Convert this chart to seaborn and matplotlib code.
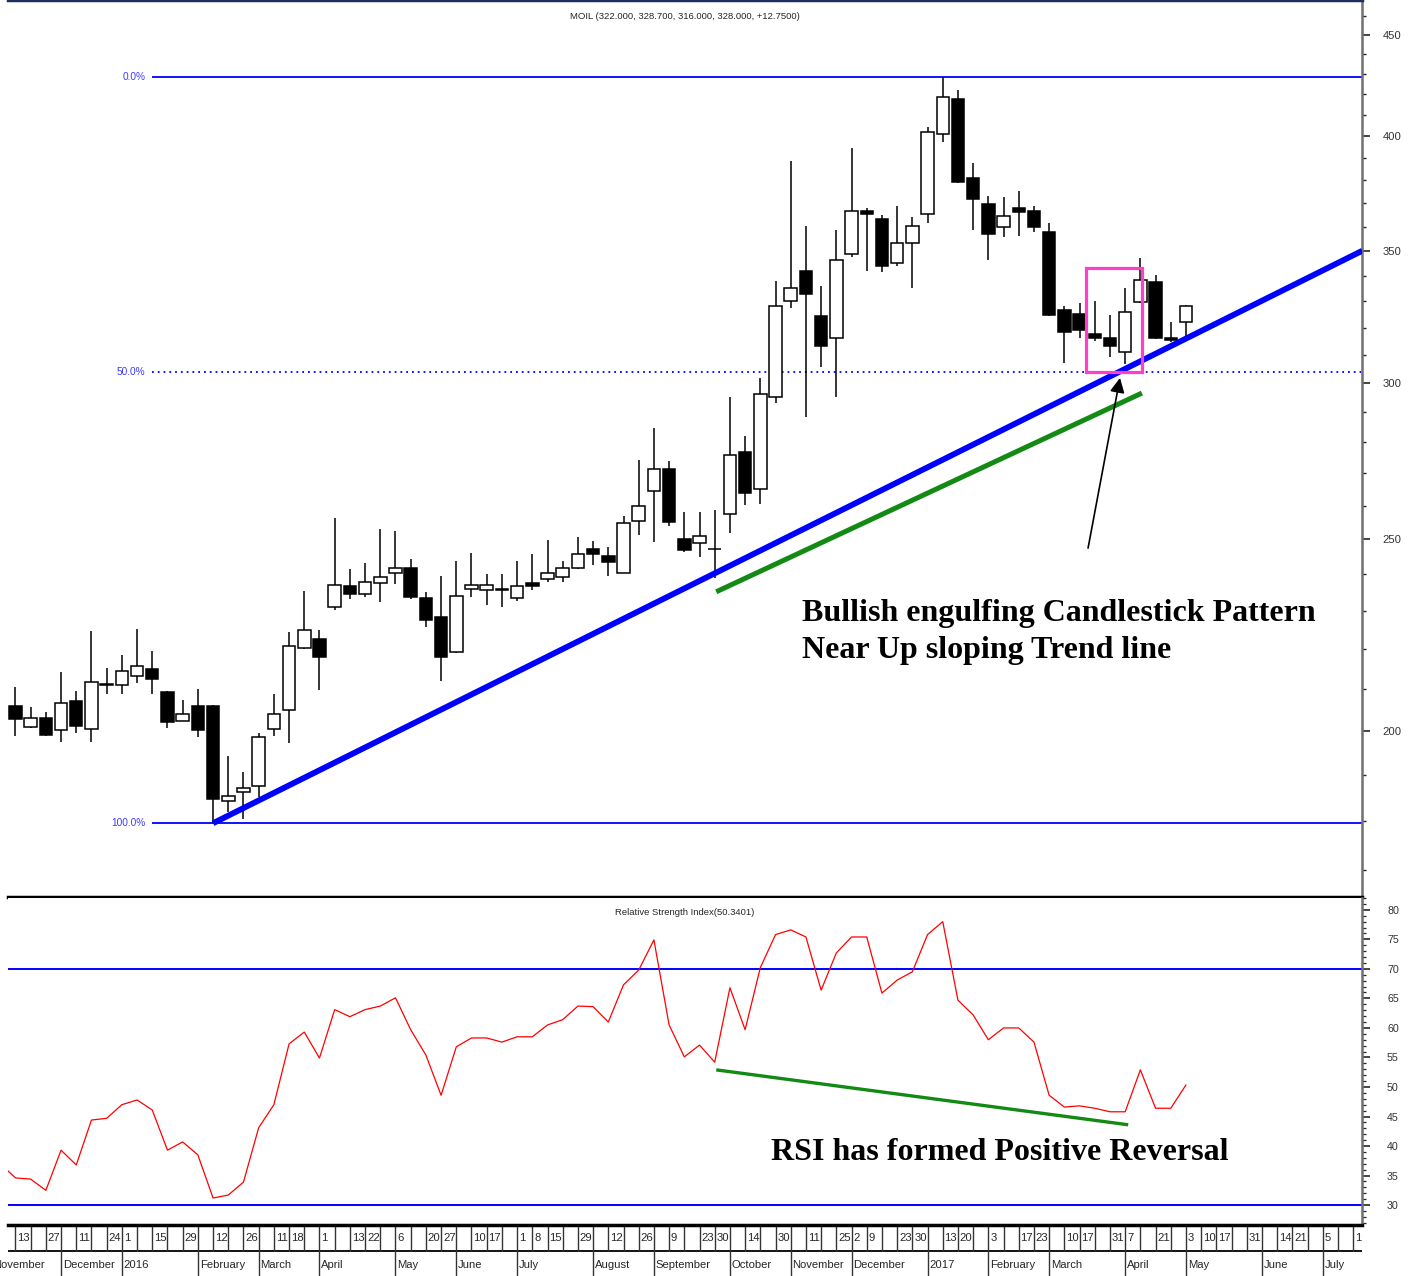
import matplotlib
matplotlib.use("Agg")
import matplotlib.pyplot as plt
import matplotlib.ticker as mticker
from matplotlib import font_manager
from matplotlib.patches import Rectangle
import numpy as np
import pandas as pd
import seaborn as sns

# weekly MOIL candles, 13 Nov 2015 .. 3 May 2017
opens = [206.0, 200.8, 203.1, 200.2, 207.1, 200.4, 211.1, 211.0, 213.1, 215.0,
         209.2, 202.4, 206.0, 206.0, 184.3, 186.2, 187.6, 200.4, 204.9, 220.2,
         222.7, 231.2, 236.9, 234.6, 237.5, 240.4, 241.9, 233.6, 228.5, 219.2,
         235.9, 235.7, 235.8, 233.5, 237.7, 238.7, 239.3, 241.7, 247.2, 245.3,
         240.4, 255.3, 264.5, 271.4, 250.2, 248.9, 247.1, 257.5, 276.9, 265.2,
         295.2, 329.9, 341.9, 324.4, 316.1, 348.6, 366.8, 363.1, 345.0, 353.1,
         365.4, 401.0, 417.7, 380.8, 369.5, 360.0, 367.8, 366.8, 357.7, 326.7,
         325.2, 317.8, 316.2, 311.2, 329.6, 337.6, 316.0, 322.0]
highs = [210.4, 205.6, 204.5, 214.1, 209.4, 224.6, 215.2, 218.5, 225.2, 219.5,
         209.4, 207.3, 210.0, 206.2, 194.3, 190.7, 199.5, 208.7, 224.4, 235.4,
         225.0, 256.2, 241.4, 243.1, 253.0, 252.4, 244.5, 235.2, 239.5, 243.9,
         246.2, 240.1, 240.1, 243.8, 245.7, 249.9, 243.8, 250.6, 249.5, 247.9,
         256.9, 274.3, 284.8, 273.8, 258.2, 258.2, 258.8, 295.0, 281.9, 301.7,
         337.9, 388.8, 360.4, 335.9, 358.6, 394.4, 367.8, 364.9, 368.8, 364.2,
         404.4, 428.5, 422.1, 387.6, 373.2, 372.5, 375.3, 368.7, 361.4, 328.0,
         329.5, 330.2, 324.6, 335.3, 347.2, 340.2, 322.0, 328.7]
lows = [198.7, 200.7, 198.8, 197.5, 199.6, 197.5, 208.7, 208.7, 211.6, 208.7,
        200.6, 202.3, 198.5, 179.6, 182.0, 180.4, 185.2, 198.7, 197.1, 220.0,
        209.8, 230.3, 233.2, 233.9, 232.5, 237.3, 233.3, 225.7, 212.0, 219.0,
        233.9, 231.5, 231.0, 232.8, 235.7, 238.0, 237.8, 241.6, 242.6, 239.6,
        240.3, 251.3, 249.3, 253.8, 246.4, 245.0, 239.0, 251.9, 260.3, 260.5,
        293.0, 327.3, 288.5, 305.8, 295.0, 347.4, 341.9, 341.3, 343.8, 335.3,
        361.4, 397.5, 378.8, 358.6, 346.3, 355.8, 356.1, 357.7, 324.4, 307.0,
        316.0, 315.0, 309.4, 306.8, 329.4, 315.8, 314.8, 316.0]
closes = [202.8, 203.1, 199.1, 206.6, 201.2, 211.8, 211.3, 214.5, 215.6, 212.5,
          202.2, 203.9, 200.2, 184.7, 185.4, 187.2, 198.5, 203.9, 220.9, 225.0,
          218.0, 237.1, 234.6, 238.0, 239.3, 241.7, 233.9, 227.5, 218.0, 234.1,
          237.1, 237.1, 236.0, 236.9, 236.8, 240.4, 241.7, 245.9, 245.9, 243.4,
          254.7, 260.0, 271.3, 255.2, 246.9, 251.0, 247.3, 275.9, 263.9, 296.3,
          328.2, 335.0, 332.8, 313.4, 346.3, 366.6, 365.4, 343.8, 353.1, 360.4,
          402.1, 418.5, 379.1, 371.6, 357.0, 364.6, 366.3, 359.7, 324.6, 318.2,
          319.0, 316.0, 313.4, 325.7, 338.3, 316.0, 315.25, 328.0]

# RSI, first value belongs to the week before the first candle
rsi = [37.0, 34.6, 34.4, 32.5, 39.3, 36.8, 44.4, 44.7, 47.0, 47.8,
       46.1, 39.3, 40.7, 38.5, 31.2, 31.7, 33.9, 43.1, 47.0, 57.3,
       59.3, 54.9, 63.1, 61.9, 63.1, 63.7, 65.1, 59.7, 55.4, 48.6,
       56.8, 58.3, 58.3, 57.6, 58.5, 58.5, 60.5, 61.4, 63.7, 63.6,
       61.0, 67.3, 69.8, 74.9, 60.5, 55.1, 57.1, 54.2, 66.8, 59.7,
       70.2, 75.8, 76.6, 75.4, 66.4, 72.7, 75.4, 75.4, 65.9, 68.1,
       69.5, 75.8, 78.0, 64.7, 62.2, 58.0, 60.0, 60.0, 57.6, 48.6,
       46.6, 46.8, 46.4, 45.8, 45.8, 52.9, 46.4, 46.4, 50.34]

# date scale: one entry per week, blank where the chart prints no number
week_days = ["13", "", "27", "", "11", "", "24", "1", "", "15",
             "", "29", "", "12", "", "26", "", "11", "18", "",
             "1", "", "13", "22", "", "6", "", "20", "27", "",
             "10", "17", "", "1", "8", "15", "", "29", "", "12",
             "", "26", "", "9", "", "23", "30", "", "14", "",
             "30", "", "11", "", "25", "2", "9", "", "23", "30",
             "", "13", "20", "", "3", "", "17", "23", "", "10",
             "17", "", "31", "7", "", "21", "", "3", "10", "17",
             "", "31", "", "14", "21", "", "5", "", "19"]
month_names = ["November", "December", "2016", "February", "March", "April",
               "May", "June", "July", "August", "September", "October",
               "November", "December", "2017", "February", "March", "April",
               "May", "June", "July"]
month_weeks = [-1.6, 3, 7, 12, 16, 20, 25, 29, 33, 38, 42, 47, 51, 55, 60,
               64, 68, 73, 77, 82, 86]

fib_labels = ["0.0%", "50.0%", "100.0%"]
trend_blue = ([13, 88.6], [179.6, 350.0])
trend_green = ([46.1, 74.1], [235.2, 296.5])
rsi_green = ([46.1, 73.2], [52.9, 43.6])
pattern_box = (70.45, 74.1, 303.9, 343.0)
arrow_from, arrow_to = (70.56, 247.5), (72.66, 301.8)

df = pd.DataFrame({"week": np.arange(len(opens)), "open": opens, "high": highs,
                   "low": lows, "close": closes})
rsi_df = pd.DataFrame({"week": np.arange(-1, len(rsi) - 1), "rsi": rsi})

sns.set_theme(style="white")
names = {f.name for f in font_manager.fontManager.ttflist}
NARROW = "Liberation Sans Narrow" if "Liberation Sans Narrow" in names else "Liberation Sans"
shrink = 1.0 if NARROW == "Liberation Sans Narrow" else 0.85
plt.rcParams["font.family"] = [NARROW, "DejaVu Sans"]

W, H = 1413, 1276


def box(x0, y0, x1, y1):
    return [x0 / W, 1 - y1 / H, (x1 - x0) / W, (y1 - y0) / H]


fig = plt.figure(figsize=(W / 100, H / 100), dpi=100)
ax = fig.add_axes(box(8, 0, 1362, 897))
ax_r = fig.add_axes(box(8, 898, 1362, 1224))
ax_d = fig.add_axes(box(8, 1225, 1362, 1276))
XMIN, XMAX = -0.49, 88.58
for a in (ax, ax_r, ax_d):
    a.set_xlim(XMIN, XMAX)
    a.set_xticks([])
    a.spines["left"].set_visible(False)

# ---- price panel
ax.set_yscale("log")
ax.set_ylim(164.8, 468.8)
up = df["close"] >= df["open"]
ax.vlines(df["week"], df["low"], df["high"], color="black", lw=1.1, zorder=2)
body_lo = df[["open", "close"]].min(axis=1)
body_h = (df["close"] - df["open"]).abs().clip(lower=0.15)
ax.bar(df["week"], body_h, bottom=body_lo, width=0.82,
       color=np.where(up, "white", "black"), edgecolor="black", linewidth=1.1, zorder=3)

hi, lo = df["high"].max(), df["low"].min()
levels = [hi, (hi + lo) / 2, lo]
for lvl, lab in zip(levels, fib_labels):
    ax.hlines(lvl, 9, XMAX, colors="#0000ff", lw=1.3,
              linestyles=(0, (1, 2.2)) if lab == "50.0%" else "solid", zorder=1)
    ax.text(8.55, lvl, lab, ha="right", va="center", color="#3b3bff",
            fontsize=8 * shrink + 0.5)

ax.plot(*trend_blue, color="#0000ff", lw=4.2, zorder=4, solid_capstyle="butt")
ax.plot(*trend_green, color="#138a13", lw=3.6, zorder=4, solid_capstyle="butt")
x0, x1, y0, y1 = pattern_box
ax.add_patch(Rectangle((x0, y0), x1 - x0, y1 - y0, fill=False,
                       edgecolor="#ff3fc8", lw=2.3, zorder=5))
ax.annotate("", xy=arrow_to, xytext=arrow_from,
            arrowprops=dict(arrowstyle="-|>", color="black", lw=1.2,
                            mutation_scale=22, shrinkA=0, shrinkB=0), zorder=6)
serif = dict(family=["Liberation Serif", "DejaVu Serif"], fontweight="bold",
             fontsize=23, color="black")
ax.text(51.74, 229.3, "Bullish engulfing Candlestick Pattern", ha="left", va="center", **serif)
ax.text(51.74, 219.7, "Near Up sloping Trend line", ha="left", va="center", **serif)
ax.text(0.5, 0.982, "MOIL (322.000, 328.700, 316.000, 328.000, +12.7500)",
        transform=ax.transAxes, ha="center", va="center", fontsize=8 * shrink)

ax.yaxis.tick_right()
ax.yaxis.set_major_locator(mticker.FixedLocator([200, 250, 300, 350, 400, 450]))
ax.yaxis.set_major_formatter(mticker.FuncFormatter(lambda v, p: f"{v:.0f}"))
ax.yaxis.set_minor_locator(mticker.FixedLocator(np.arange(170, 470, 10)))
ax.yaxis.set_minor_formatter(mticker.NullFormatter())
ax.tick_params(axis="y", which="major", direction="out", length=6, width=1.2,
               pad=9, labelsize=9.5 * shrink, labelcolor="#333333")
ax.tick_params(axis="y", which="minor", direction="out", length=3, width=1.0)
ax.spines["top"].set_color("#1c2f5c")
ax.spines["top"].set_linewidth(2.5)
ax.spines["right"].set_color("#707070")
ax.spines["right"].set_linewidth(1.8)
ax.spines["bottom"].set_color("black")
ax.spines["bottom"].set_linewidth(2.5)

# ---- RSI panel
ax_r.set_ylim(26.8, 82.0)
ax_r.axhline(70, color="#0000ff", lw=1.4)
ax_r.axhline(30, color="#0000ff", lw=1.4)
sns.lineplot(data=rsi_df, x="week", y="rsi", ax=ax_r, color="#ff0000", lw=0.9)
ax_r.plot(*rsi_green, color="#138a13", lw=2.4, solid_capstyle="butt")
ax_r.text(64.77, 38.9, "RSI has formed Positive Reversal", ha="center", va="center", **serif)
ax_r.text(0.5, 0.955, "Relative Strength Index(50.3401)", transform=ax_r.transAxes,
          ha="center", va="center", fontsize=8 * shrink)
ax_r.set_xlabel("")
ax_r.set_ylabel("")
ax_r.set_xticks([])
ax_r.yaxis.tick_right()
ax_r.yaxis.set_major_locator(mticker.MultipleLocator(5))
ax_r.yaxis.set_minor_locator(mticker.MultipleLocator(1))
ax_r.tick_params(axis="y", which="major", direction="out", length=6, width=1.2,
                 pad=12, labelsize=9 * shrink, labelcolor="#333333")
ax_r.tick_params(axis="y", which="minor", direction="out", length=3, width=0.9)
ax_r.spines["top"].set_visible(False)
ax_r.spines["bottom"].set_visible(False)
ax_r.spines["right"].set_color("#707070")
ax_r.spines["right"].set_linewidth(1.8)

# ---- date scale
ax_d.set_ylim(0, 2)
ax_d.set_yticks([])
ax_d.axhline(1, color="black", lw=1.3)
ax_d.vlines(np.arange(len(week_days)), 1, 2, colors="#333333", lw=1.0)
for w, d in enumerate(week_days):
    if d:
        ax_d.text(w + 0.12, 1.48, d, ha="left", va="center", fontsize=9.5 * shrink,
                  clip_on=True)
ax_d.vlines(month_weeks, 0, 1, colors="#333333", lw=1.0)
for m, name in zip(month_weeks, month_names):
    ax_d.text(m + 0.12, 0.45, name, ha="left", va="center", fontsize=9.5 * shrink,
              clip_on=False)
ax_d.spines["top"].set_color("black")
ax_d.spines["top"].set_linewidth(2.5)
for s in ("bottom", "right"):
    ax_d.spines[s].set_visible(False)

fig.savefig("out.png", dpi=100, facecolor="white")
